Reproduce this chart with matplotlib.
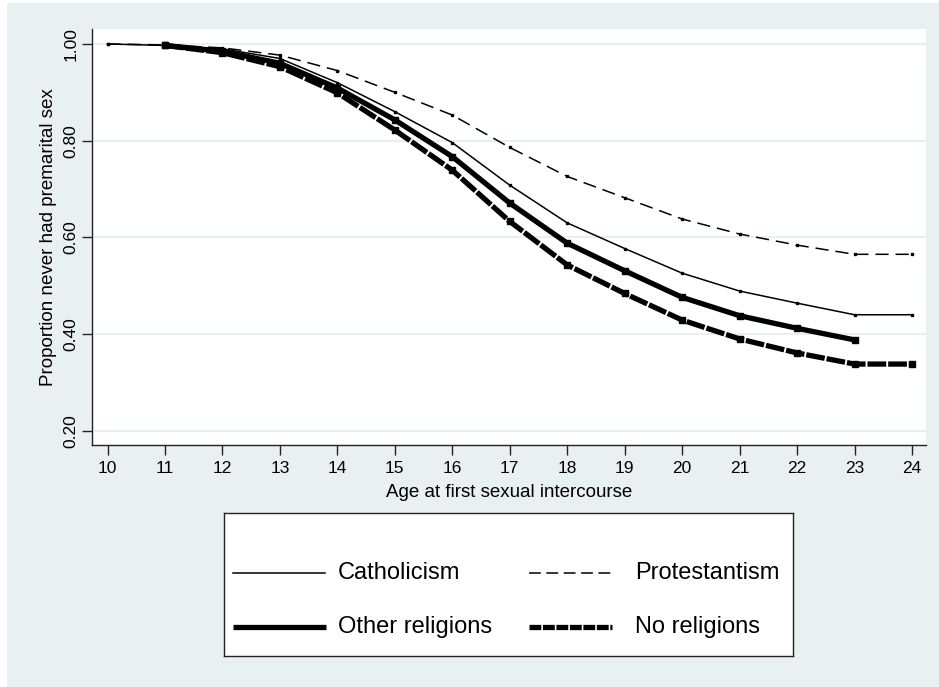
import matplotlib
matplotlib.use("Agg")
import matplotlib.pyplot as plt
from matplotlib.patches import Rectangle

# survival proportions by age at first intercourse
ages = [10, 11, 12, 13, 14, 15, 16, 17, 18, 19, 20, 21, 22, 23, 24]
catholicism = [1.0, 0.997, 0.99, 0.97, 0.92, 0.86, 0.796, 0.708, 0.63, 0.577, 0.526, 0.489, 0.464, 0.44, 0.44]
protestantism = [1.0, 0.998, 0.992, 0.977, 0.945, 0.90, 0.853, 0.786, 0.726, 0.682, 0.638, 0.607, 0.584, 0.565, 0.565]
other_ages = [11, 12, 13, 14, 15, 16, 17, 18, 19, 20, 21, 22, 23]
other_religions = [0.997, 0.985, 0.96, 0.909, 0.843, 0.767, 0.671, 0.588, 0.531, 0.476, 0.438, 0.412, 0.388]
none_ages = [11, 12, 13, 14, 15, 16, 17, 18, 19, 20, 21, 22, 23, 24]
no_religions = [0.997, 0.982, 0.953, 0.899, 0.822, 0.739, 0.633, 0.543, 0.484, 0.429, 0.390, 0.361, 0.338, 0.338]

yticks = [0.2, 0.4, 0.6, 0.8, 1.0]
ytick_labels = ["0.20", "0.40", "0.60", "0.80", "1.00"]

plt.rcParams['lines.scale_dashes'] = False
font = ['Liberation Sans', 'DejaVu Sans']
bg = '#E8F0F2'
grid_col = '#E3ECEF'

W, H = 939, 687
fig = plt.figure(figsize=(W / 100, H / 100), dpi=100)
fig.patch.set_facecolor('white')
fig.patches.append(Rectangle((7 / W, 0), 1 - 7 / W, (H - 3) / H, transform=fig.transFigure,
                             facecolor=bg, edgecolor='none', zorder=-10))

# plot region
ax = fig.add_axes([92 / W, (H - 445) / H, (926 - 92) / W, (445 - 29) / H])
ax.set_facecolor('white')
ax.set_xlim(9.730, 24.244)
ax.set_ylim(0.1706, 1.031)
for s in ['top', 'right']:
    ax.spines[s].set_visible(False)
for s in ['left', 'bottom']:
    ax.spines[s].set_color('#222222')
    ax.spines[s].set_linewidth(1.0)
ax.set_yticks(yticks)
ax.set_yticklabels(ytick_labels, rotation=90, va='center', family=font, fontsize=12.5)
ax.set_xticks(ages)
ax.set_xticklabels([str(a) for a in ages], family=font, fontsize=12.5)
ax.tick_params(axis='both', length=7, width=1.0, color='#222222')
ax.tick_params(axis='y', pad=2.5)
ax.tick_params(axis='x', pad=4.5)
ax.grid(axis='y', color=grid_col, linewidth=1.2)
ax.set_axisbelow(True)

ax.plot(ages, catholicism, color='black', lw=1.1, marker='s', ms=1.8)
ax.plot(ages, protestantism, color='black', lw=1.1, dashes=(9.5, 5), marker='s', ms=1.8)
ax.plot(other_ages, other_religions, color='black', lw=3.8, marker='s', ms=4.3,
        solid_capstyle='butt')
ax.plot(none_ages, no_religions, color='black', lw=3.8, dashes=(13.5, 1.4), marker='s', ms=4.3,
        dash_capstyle='butt')

ax.set_xlabel("Age at first sexual intercourse", family=font, fontsize=13.5, labelpad=6)
ax.set_ylabel("Proportion never had premarital sex", family=font, fontsize=13.5, labelpad=5)

# legend box
lax = fig.add_axes([224 / W, (H - 656) / H, (793 - 224) / W, (656 - 513) / H])
lax.set_xlim(224, 793)
lax.set_ylim(656, 513)
lax.set_xticks([])
lax.set_yticks([])
for s in lax.spines.values():
    s.set_linewidth(1.0)
    s.set_color('#222222')
lax.plot([233, 325], [573, 573], color='black', lw=1.1)
lax.plot([529, 612], [573, 573], color='black', lw=1.1, dashes=(8.5, 4))
lax.plot([233, 326], [627, 627], color='black', lw=3.8, solid_capstyle='butt')
lax.plot([529, 612], [627, 627], color='black', lw=3.8, dashes=(8.5, 1.2), dash_capstyle='butt')
lax.text(338, 573, "Catholicism", family=font, fontsize=17, va='center', ha='left')
lax.text(635, 573, "Protestantism", family=font, fontsize=17, va='center', ha='left')
lax.text(338, 627, "Other religions", family=font, fontsize=17, va='center', ha='left')
lax.text(635, 627, "No religions", family=font, fontsize=17, va='center', ha='left')

fig.savefig("out.png", dpi=100)
